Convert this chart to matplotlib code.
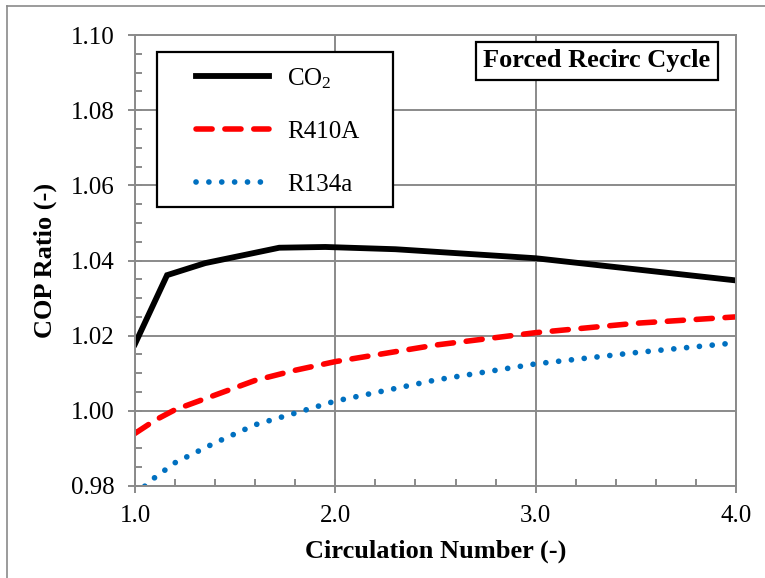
import matplotlib
matplotlib.use('Agg')
import matplotlib.pyplot as plt
from matplotlib.lines import Line2D
from matplotlib.patches import Rectangle
from matplotlib.ticker import MultipleLocator, FormatStrFormatter

### data
co2_x = [1.0, 1.16, 1.35, 1.54, 1.72, 1.95, 2.3, 3.0, 4.0]
co2_y = [1.0178, 1.0361, 1.0393, 1.0414, 1.0434, 1.0436, 1.0430, 1.0406, 1.0347]

r410a_x = [1.0, 1.1, 1.2, 1.4, 1.6, 1.8, 2.0, 2.5, 3.0, 3.5, 4.0]
r410a_y = [0.9940, 0.9975, 1.0003, 1.0042, 1.0081, 1.0108, 1.0131, 1.0175, 1.0208, 1.0233, 1.0250]

r134a_x = [1.0, 1.1, 1.2, 1.4, 1.6, 1.8, 2.0, 2.5, 3.0, 3.5, 4.0]
r134a_y = [0.9777, 0.9823, 0.9862, 0.9915, 0.9963, 0.9994, 1.0026, 1.0082, 1.0125, 1.0155, 1.0181]

labels = ['$\\mathregular{CO_2}$', 'R410A', 'R134a']

plt.rcParams['font.family'] = ['Liberation Serif', 'DejaVu Serif']
plt.rcParams['mathtext.fontset'] = 'custom'
plt.rcParams['mathtext.rm'] = 'Liberation Serif'

grey = '#8a8a8a'

fig = plt.figure(figsize=(7.65, 5.78), dpi=100)
ax = fig.add_axes([135/765, 1 - 486/578, 601/765, 451/578])

ax.plot(co2_x, co2_y, color='black', lw=4.2, solid_joinstyle='miter', label=labels[0])
ax.plot(r410a_x, r410a_y, color='#ff0000', lw=4.0, dashes=(2.9, 2.3),
        dash_capstyle='round', label=labels[1])
ax.plot(r134a_x, r134a_y, color='#0070c0', lw=4.1, dashes=(0.01, 2.25),
        dash_capstyle='round', label=labels[2])

ax.set_xlim(1.0, 4.0)
ax.set_ylim(0.98, 1.10)
ax.xaxis.set_major_locator(MultipleLocator(1.0))
ax.xaxis.set_minor_locator(MultipleLocator(0.2))
ax.yaxis.set_major_locator(MultipleLocator(0.02))
ax.yaxis.set_minor_locator(MultipleLocator(0.005))
ax.xaxis.set_major_formatter(FormatStrFormatter('%.1f'))
ax.yaxis.set_major_formatter(FormatStrFormatter('%.2f'))

ax.grid(True, which='major', color=grey, lw=1.4)
ax.set_axisbelow(True)
for s in ax.spines.values():
    s.set_color(grey)
    s.set_linewidth(1.4)
ax.tick_params(which='major', direction='inout', length=10, width=1.4, color=grey,
               labelsize=18, pad=9)
ax.tick_params(which='minor', direction='in', length=5, width=1.4, color=grey)
ax.tick_params(axis='y', which='major', pad=10)

ax.set_xlabel('Circulation Number (-)', fontsize=19, fontweight='bold', labelpad=9)
ax.set_ylabel('COP Ratio (-)', fontsize=19, fontweight='bold', labelpad=10)

# legend box
ax.add_patch(Rectangle(((157-135)/601, (486-207)/451), (393-157)/601, (207-52)/451,
                       transform=ax.transAxes, fill=True, facecolor='white',
                       edgecolor='black', lw=1.6, zorder=5))
leg = ax.legend(loc='upper left', bbox_to_anchor=((196-135)/601, (486-66)/451),
                frameon=False, fontsize=18, handlelength=2.9, handletextpad=0.75,
                labelspacing=1.2, borderpad=0, borderaxespad=0)
leg.set_zorder(6)

# title box
ax.text((597-135)/601, (486-61)/451, 'Forced Recirc Cycle', transform=ax.transAxes,
        ha='center', va='center', fontsize=19, fontweight='bold', zorder=6,
        bbox=dict(boxstyle='square,pad=0.3', facecolor='white', edgecolor='black', lw=1.6))

# outer chart-area frame
fig.add_artist(Line2D([7/765, 7/765], [0, 1 - 6/578], color=grey, lw=1.2))
fig.add_artist(Line2D([7/765, 1], [1 - 6/578, 1 - 6/578], color=grey, lw=1.2))

fig.savefig('out.png', dpi=100)
